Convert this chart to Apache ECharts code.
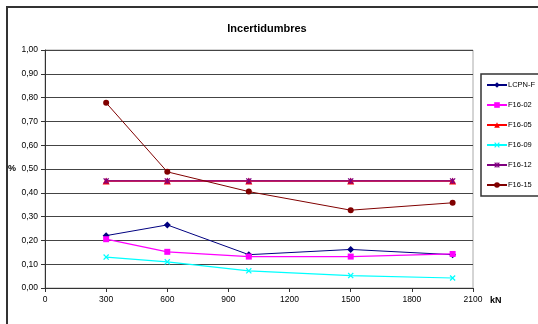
<!DOCTYPE html>
<html><head><meta charset="utf-8">
<script src="https://cdn.jsdelivr.net/npm/echarts@6/dist/echarts.min.js"></script>
<style>html,body{margin:0;padding:0;background:#fff}#c{width:538px;height:324px}</style>
</head><body><div id="c"></div>
<script>
var xValues = [300, 600, 1000, 1500, 2000];
var seriesNames = ['LCPN-F', 'F16-02', 'F16-05', 'F16-09', 'F16-12', 'F16-15'];
var lcpnF = [0.22, 0.265, 0.14, 0.162, 0.14];
var f1602 = [0.205, 0.152, 0.132, 0.132, 0.143];
var f1605 = [0.45, 0.45, 0.45, 0.45, 0.45];
var f1609 = [0.13, 0.11, 0.072, 0.052, 0.042];
var f1612 = [0.45, 0.45, 0.45, 0.45, 0.45];
var f1615 = [0.778, 0.488, 0.405, 0.327, 0.358];

var xShape = 'path://M0,1.5 L1.5,0 L5,3.5 L8.5,0 L10,1.5 L6.5,5 L10,8.5 L8.5,10 L5,6.5 L1.5,10 L0,8.5 L3.5,5 Z';
var starShape = 'path://M0,1.5 L1.5,0 L4.2,2.7 L4.2,0 L5.8,0 L5.8,2.7 L8.5,0 L10,1.5 L6.5,5 L10,8.5 L8.5,10 L5.8,7.3 L5.8,10 L4.2,10 L4.2,7.3 L1.5,10 L0,8.5 L3.5,5 Z';

function mk(name, data, color, symbol, size, lw) {
  return {
    name: name, type: 'line',
    data: xValues.map(function (x, i) { return [x, data[i]]; }),
    symbol: symbol, symbolSize: size,
    lineStyle: { color: color, width: lw },
    itemStyle: { color: color },
    emphasis: { disabled: true }
  };
}

var chart = echarts.init(document.getElementById('c'), null, { renderer: 'canvas' });
chart.setOption({
  animation: false,
  textStyle: { fontFamily: 'Liberation Sans, Arial, sans-serif' },
  title: {
    text: 'Incertidumbres', left: 262, top: 18, textAlign: 'center',
    textStyle: { fontSize: 11, fontWeight: 'bold', color: '#000', fontFamily: 'Liberation Sans, Arial, sans-serif' }
  },
  graphic: [
    { type: 'rect', shape: { x: 7, y: 7, width: 640, height: 420 }, style: { fill: 'none', stroke: '#333', lineWidth: 2 }, z: 100 },
    { type: 'text', left: 8, top: 164, style: { text: '%', font: 'bold 9px Liberation Sans, Arial, sans-serif', fill: '#000' } },
    { type: 'text', left: 490, top: 296, style: { text: 'kN', font: 'bold 9px Liberation Sans, Arial, sans-serif', fill: '#000' } }
  ],
  legend: {
    orient: 'vertical', left: 481, top: 74,
    data: seriesNames,
    itemWidth: 20, itemHeight: 7, itemGap: 12,
    padding: [7, 6, 7, 5],
    borderColor: '#333', borderWidth: 1.5,
    textStyle: { fontSize: 7.5, color: '#000', padding: [0, 0, 0, -4] }
  },
  grid: { left: 45, right: 65, top: 50, bottom: 36, show: true, borderColor: '#aaa', borderWidth: 1, backgroundColor: 'transparent' },
  xAxis: {
    type: 'value', min: 0, max: 2100, interval: 300,
    axisLine: { lineStyle: { color: '#333', width: 1 } },
    axisTick: { show: true, length: 4, lineStyle: { color: '#333' } },
    axisLabel: { fontSize: 8.5, color: '#000', margin: 7, formatter: function (v) { return String(v); } },
    splitLine: { show: false }
  },
  yAxis: {
    type: 'value', min: 0, max: 1, interval: 0.1,
    axisLine: { show: true, lineStyle: { color: '#333', width: 1 } },
    axisTick: { show: true, length: 4, lineStyle: { color: '#333' } },
    axisLabel: { fontSize: 8.5, color: '#000', margin: 7, formatter: function (v) { return v.toFixed(2).replace('.', ','); } },
    splitLine: { show: true, lineStyle: { color: '#444', width: 1 } }
  },
  series: [
    mk('LCPN-F', lcpnF, '#000080', 'diamond', 7, 1),
    mk('F16-02', f1602, '#FF00FF', 'rect', 6, 1.3),
    mk('F16-05', f1605, '#FF0000', 'triangle', 7, 1.5),
    mk('F16-09', f1609, '#00FFFF', xShape, 6, 1.2),
    mk('F16-12', f1612, '#800080', starShape, 6, 1.2),
    mk('F16-15', f1615, '#800000', 'circle', 6, 1)
  ]
});
</script></body></html>
